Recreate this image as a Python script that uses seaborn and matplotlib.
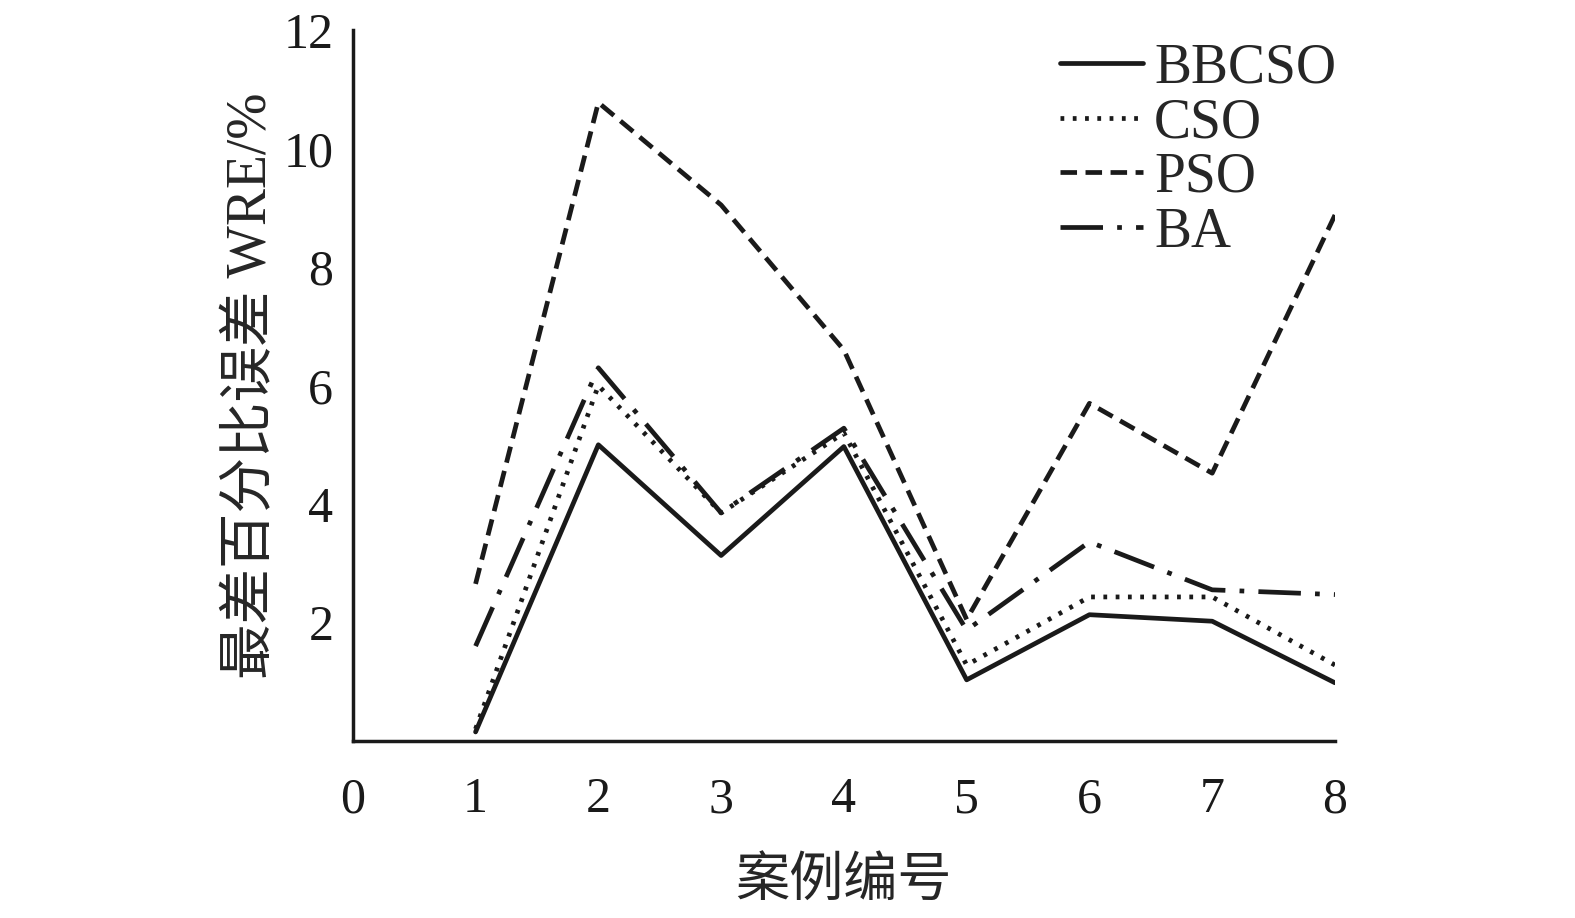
import numpy as np
import pandas as pd
import matplotlib
matplotlib.use("Agg")
import matplotlib.pyplot as plt
import seaborn as sns

# 数据
cases = [1, 2, 3, 4, 5, 6, 7, 8]
bbcso = [0.15, 5.0, 3.13, 4.97, 1.03, 2.13, 2.02, 0.98]
cso = [0.2, 6.0, 3.85, 5.2, 1.28, 2.43, 2.43, 1.28]
pso = [2.65, 10.78, 9.05, 6.6, 2.05, 5.7, 4.52, 8.88]
ba = [1.6, 6.3, 3.85, 5.28, 1.87, 3.36, 2.55, 2.47]

names = ["BBCSO", "CSO", "PSO", "BA"]
series = [bbcso, cso, pso, ba]
styles = ["-", (0, (0.8, 1.8)), (0, (3.5, 1.8)), (0, (9, 3, 1, 3))]

df = pd.DataFrame({"case": cases * 4,
                   "wre": bbcso + cso + pso + ba,
                   "alg": np.repeat(names, len(cases))})

sns.set_style("white")
plt.rcParams["font.family"] = ["Liberation Serif", "Noto Sans CJK SC"]

fig = plt.figure(figsize=(15.75, 9.18), dpi=100)
ax = fig.add_axes([0.224, 0.193, 0.6236, 0.774])

for name, ls in zip(names, styles):
    sns.lineplot(data=df[df["alg"] == name], x="case", y="wre", ax=ax,
                 color="#1a1a1a", lw=3.4, linestyle=ls, label=name)

ax.set_xlim(0, 8)
ax.set_ylim(0, 12)
ax.set_xticks(range(0, 9))
ax.set_yticks([2, 4, 6, 8, 10, 12])
ax.tick_params(direction="in", length=9, width=2.5, labelsize=36,
               colors="#1a1a1a")
ax.tick_params(axis="x", pad=26)
ax.tick_params(axis="y", pad=14)
for s in ["top", "right"]:
    ax.spines[s].set_visible(False)
for s in ["left", "bottom"]:
    ax.spines[s].set_linewidth(2.5)
    ax.spines[s].set_color("#1a1a1a")

ax.set_xlabel("案例编号", fontsize=39, family=["Noto Sans CJK SC"], labelpad=22)
ax.set_ylabel("最差百分比误差 WRE/%", fontsize=40,
              family=["Liberation Serif", "Noto Sans CJK SC"], labelpad=4)

ax.legend(loc="upper right", bbox_to_anchor=(1.035, 1.03), frameon=False,
          fontsize=40, handlelength=1.5, handletextpad=0.2, labelspacing=0.05,
          borderaxespad=0.2)

fig.savefig("out.png", dpi=100)
